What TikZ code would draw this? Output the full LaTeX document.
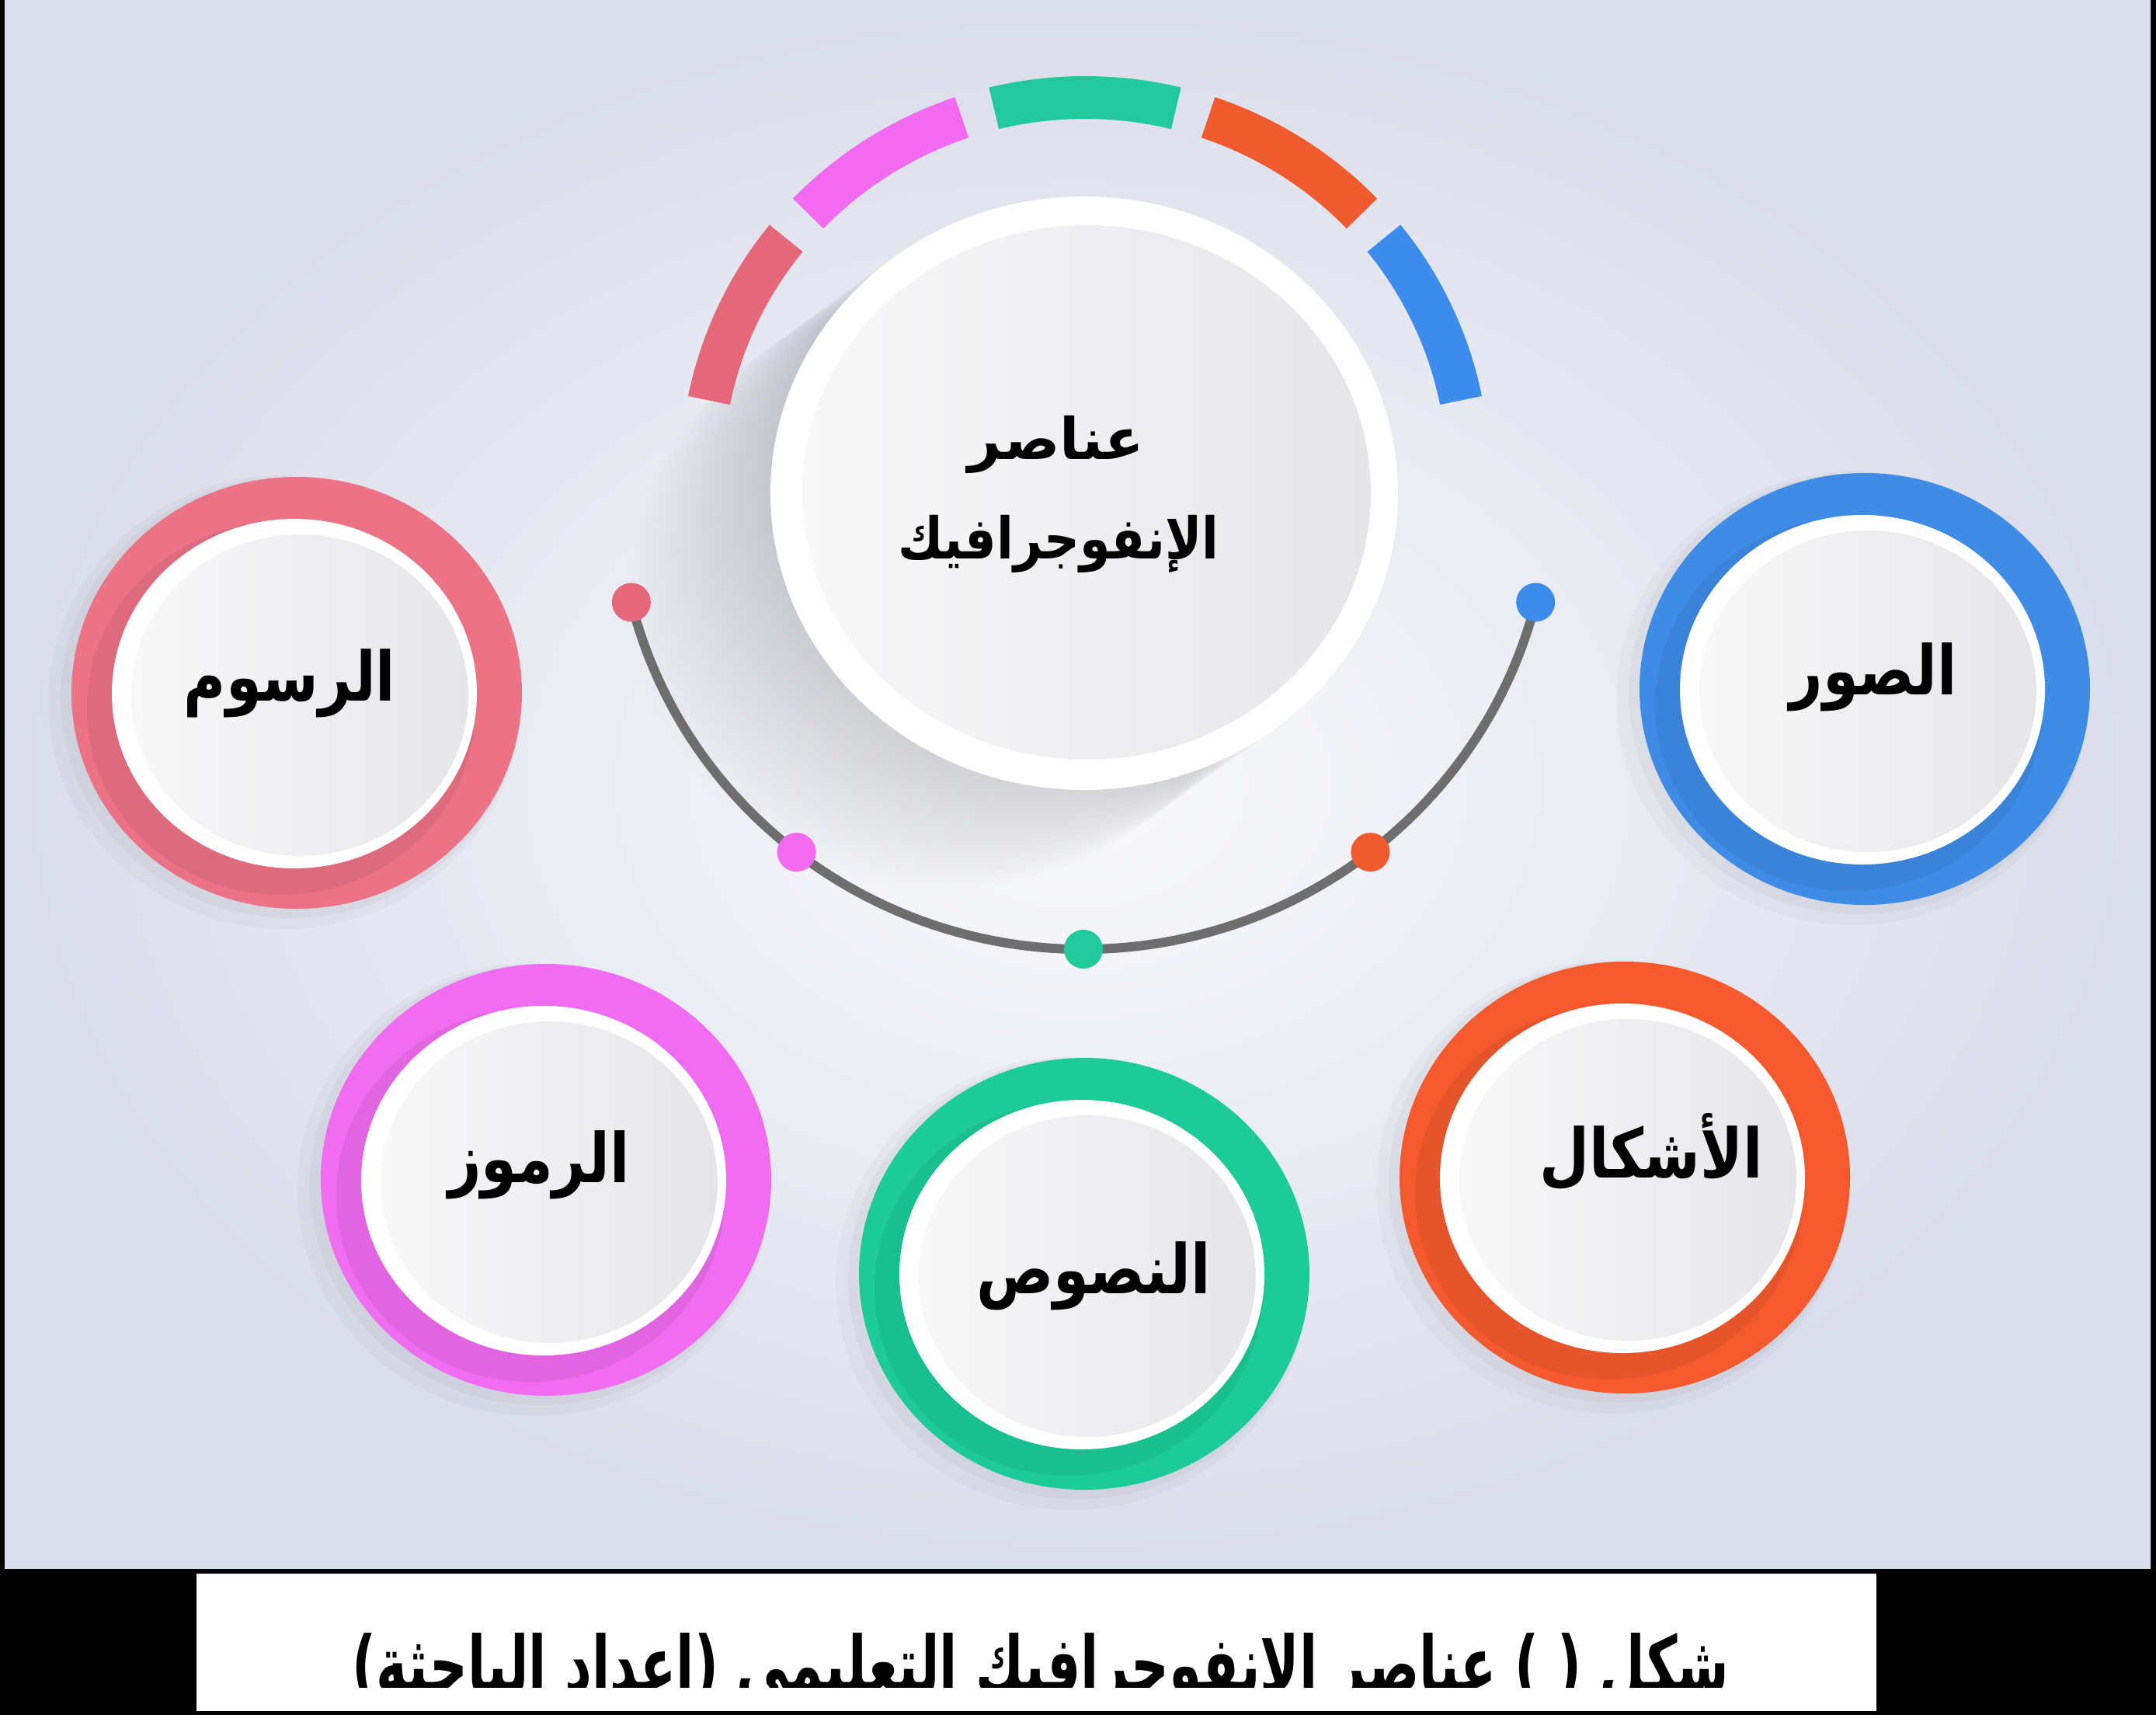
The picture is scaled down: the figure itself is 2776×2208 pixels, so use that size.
\documentclass[tikz,border=0pt]{standalone}
\usepackage{graphicx}
\usepackage{fontspec}
\newfontfamily\arabicfont[Script=Arabic]{DejaVu Sans}
\TeXXeTstate=1
\definecolor{bgin}{HTML}{FAFAFC}
\definecolor{bgout}{HTML}{DADDEA}
\definecolor{ringrose}{HTML}{EC7285}
\definecolor{ringpink}{HTML}{F06CF0}
\definecolor{ringgreen}{HTML}{1CCB98}
\definecolor{ringorange}{HTML}{F45A2E}
\definecolor{ringblue}{HTML}{3E8CE6}
\definecolor{segrose}{HTML}{E5677A}
\definecolor{segpink}{HTML}{F26AF0}
\definecolor{seggreen}{HTML}{22C99B}
\definecolor{segorange}{HTML}{EF5A2F}
\definecolor{segblue}{HTML}{3D8BEA}
\definecolor{arcgray}{HTML}{6E6E6E}
\definecolor{diskhi}{HTML}{F8F8F9}
\definecolor{disklo}{HTML}{E6E6E9}
\tikzset{
  seg/.style={line width=55pt},
  arcline/.style={line width=12pt, draw=arcgray},
  dotnode/.style={circle, minimum size=50pt, inner sep=0pt, draw=none},
  lbl/.style={font=\arabicfont\bfseries\fontsize{88}{100}\selectfont, text=black, inner sep=0pt},
  centerlbl/.style={font=\arabicfont\bfseries\fontsize{74}{130}\selectfont, text=black, inner sep=0pt, align=center},
  caplbl/.style={font=\arabicfont\bfseries\fontsize{100}{110}\selectfont, text=black, inner sep=0pt},
}
\begin{document}
\begin{tikzpicture}[x=1pt,y=-1pt]
\useasboundingbox (0,0) rectangle (2776,2208);
\fill[black] (0,0) rectangle (2776,2208);
\shade[inner color=bgin, outer color=bgout] (6,0) rectangle (2769,2019);

% long shadow of the central disk
\foreach \i in {1,...,36}{
  \fill[black, opacity=0.0045] (1396-5*\i, 635+3.6*\i) ellipse [x radius=404, y radius=382];
}

% outer rings
\foreach \n/\x/\y/\c/\t/\tx/\ty in {
  rasm/382/892/ringrose/الرسوم/373/880,
  suwar/2401/887/ringblue/الصور/2412/872,
  rumuz/703/1519/ringpink/الرموز/694/1500,
  ashkal/2092/1516/ringorange/الأشكال/2126/1483,
  nusus/1396/1640/ringgreen/النصوص/1408/1643}{
  \fill[black, opacity=0.025] (\x-16, \y+12) ellipse [x radius=304, y radius=292];
  \fill[black, opacity=0.03] (\x-8, \y+6) ellipse [x radius=296, y radius=284];
  \fill[\c] (\x,\y) ellipse [x radius=290, y radius=278];
  \begin{scope}
    \clip (\x,\y) ellipse [x radius=290, y radius=278];
    \fill[black, opacity=0.06] (\x-20, \y+20) ellipse [x radius=250, y radius=240];
  \end{scope}
  \fill[white] (\x-3, \y+1) ellipse [x radius=235, y radius=225];
  \shade[left color=diskhi, right color=disklo] (\x+4, \y+3) ellipse [x radius=217, y radius=207];
  \node[lbl] (\n) at (\tx, \ty) {\scalebox{0.84}[1]{\beginR \t\endR}};
}

% central disk
\fill[white] (1396,635) ellipse [x radius=404, y radius=382];
\shade[left color=diskhi, right color=disklo] (1399,634) ellipse [x radius=366, y radius=344];
\node[centerlbl] (title1) at (1360,572) {\beginR عناصر\endR};
\node[centerlbl] (title2) at (1363,700) {\scalebox{0.86}[1]{\beginR الإنفوجرافيك\endR}};

% coloured segments round the central disk
\coordinate (S) at (1397,610);
\foreach \a/\b/\c in {141.25/168.75/segrose, 108.75/136.25/segpink, 76.25/103.75/seggreen, 43.75/71.25/segorange, 11.25/38.75/segblue}{
  \draw[seg, \c] ([shift={(-\a:493.5 and 484.5)}]S) arc [start angle=-\a, end angle=-\b, x radius=493.5, y radius=484.5];
}

% grey arc with dots
\coordinate (A) at (1395,633);
\coordinate (p1) at ([shift={(-194:600 and 589)}]A);
\coordinate (p2) at ([shift={(-232:600 and 589)}]A);
\coordinate (p3) at ([shift={(-270:600 and 589)}]A);
\coordinate (p4) at ([shift={(-308:600 and 589)}]A);
\coordinate (p5) at ([shift={(-346:600 and 589)}]A);
\draw[arcline] (p1) arc [start angle=-194, end angle=-346, x radius=600, y radius=589];
\node[dotnode, fill=segrose] (d1) at (p1) {};
\node[dotnode, fill=segpink] (d2) at (p2) {};
\node[dotnode, fill=seggreen] (d3) at (p3) {};
\node[dotnode, fill=segorange] (d4) at (p4) {};
\node[dotnode, fill=segblue] (d5) at (p5) {};

% caption
\fill[white] (253,2026) rectangle (2416,2203);
\begin{scope}
  \clip (253,2026) rectangle (2416,2172);
  \node[caplbl, anchor=base] (cap) at (1340,2178) {\scalebox{0.678}[1]{\beginR شكل (  ) عناصر الانفوجرافيك التعليمي (إعداد الباحثة)\endR}};
\end{scope}
\end{tikzpicture}
\end{document}
